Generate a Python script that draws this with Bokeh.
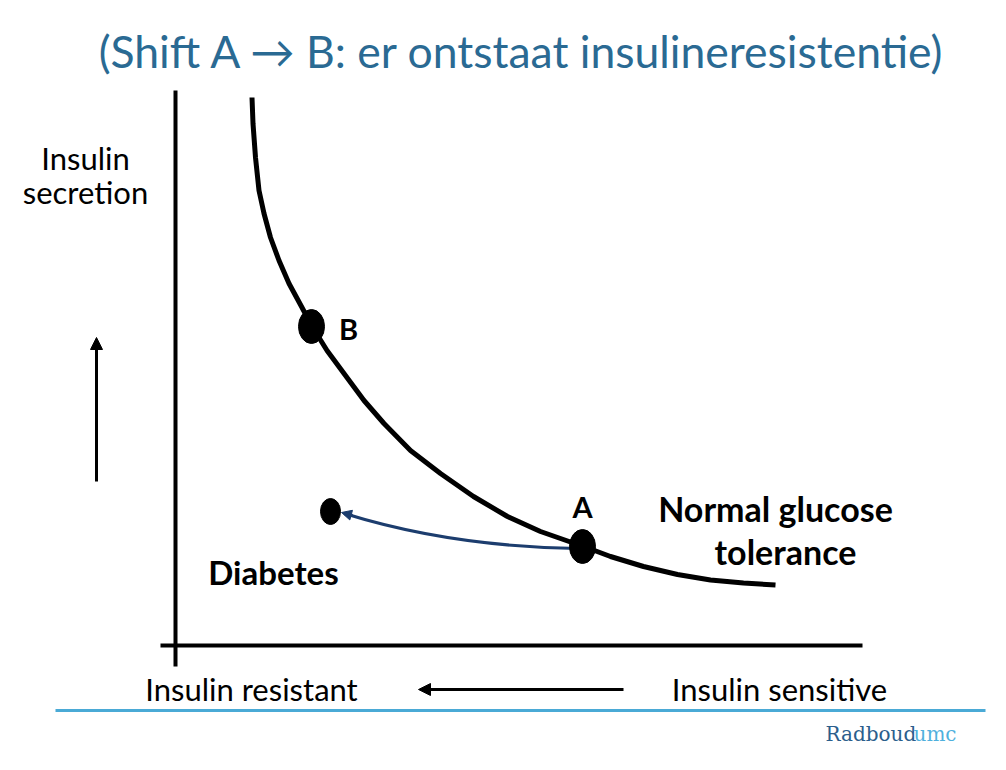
from bokeh.plotting import figure
from bokeh.models import Range1d, Arrow, NormalHead, ColumnDataSource
from bokeh.core.properties import value
from bokeh.embed import file_html
from bokeh.resources import INLINE

# ---- data (diagram coordinates; y grows downward) ----
curve_x = [251.5, 252.5, 255, 258.5, 263.5, 270, 278.5, 288.5, 301.5, 311, 326.5, 343.5, 363.5, 383.5,
           410, 440, 473, 507, 540, 570, 582, 610, 643, 677, 710, 743, 775]
curve_y = [97, 123, 157, 190, 213, 237, 260, 283, 307, 325, 350, 373, 400, 423,
           450, 473, 496, 516, 531, 541.5, 545.5, 556, 566, 574, 579.5, 582.5, 584.5]

point_names = ["B", "A"]
point_x = [311, 582]
point_y = [326, 546]

diabetes_x = [330]
diabetes_y = [511]

title_text = "(Shift A \u2192 B: er ontstaat insulineresistentie)"
y_label_lines = ["Insulin", "secretion"]
x_label_left = "Insulin resistant"
x_label_right = "Insulin sensitive"
ngt_lines = ["Normal glucose", "tolerance"]
diabetes_label = "Diabetes"

FONT = "Lato"
TITLE_BLUE = "#2A6A93"
NAVY = "#1C3D6E"
LIGHT_BLUE = "#4AAAD6"

p = figure(width=1006, height=770, output_backend="svg", toolbar_location=None,
           x_range=Range1d(0, 1006), y_range=Range1d(770, 0), min_border=0)
p.axis.visible = False
p.grid.visible = False
p.outline_line_color = None
p.background_fill_color = "white"
p.border_fill_color = "white"

# title
p.text(x=[522], y=[50], text=[title_text], text_font=value(FONT), text_font_size="44.5px",
       text_color=TITLE_BLUE, text_align="center", text_baseline="middle")

# axes lines
p.line(x=[175, 175], y=[90, 666], line_color="black", line_width=4)
p.line(x=[160, 862], y=[645, 645], line_color="black", line_width=4)

# y label and arrow
p.text(x=[85, 85], y=[157, 191], text=y_label_lines, text_font=value(FONT), text_font_size="31px",
       text_color="black", text_align="center", text_baseline="middle")
p.add_layout(Arrow(end=NormalHead(size=12, fill_color="black", line_color="black"),
                   x_start=96, y_start=481, x_end=96, y_end=337, line_width=3, line_color="black"))

# x labels and arrow
p.text(x=[251], y=[688], text=[x_label_left], text_font=value(FONT), text_font_size="31px",
       text_color="black", text_align="center", text_baseline="middle")
p.text(x=[779], y=[688], text=[x_label_right], text_font=value(FONT), text_font_size="31px",
       text_color="black", text_align="center", text_baseline="middle")
p.add_layout(Arrow(end=NormalHead(size=12, fill_color="black", line_color="black"),
                   x_start=623, y_start=689, x_end=418, y_end=689, line_width=3, line_color="black"))

# curve
p.line(x=curve_x, y=curve_y, line_color="black", line_width=5, line_join="round", line_cap="butt")

# shift arrow A -> diabetes
p.quadratic(x0=[577], y0=[548], x1=[344], y1=[513], cx=[450], cy=[546], line_color=NAVY, line_width=3)
p.add_layout(Arrow(end=NormalHead(size=10, fill_color=NAVY, line_color=NAVY),
                   x_start=352, y_start=515, x_end=341, y_end=512, line_width=3, line_color=NAVY))

# points
src = ColumnDataSource(dict(x=point_x, y=point_y, name=point_names))
p.ellipse(x="x", y="y", width=26, height=34, source=src, fill_color="black", line_color="black")
p.ellipse(x=diabetes_x, y=diabetes_y, width=20, height=26, fill_color="black", line_color="black")

p.text(x=[348], y=[328], text=["B"], text_font=value(FONT), text_font_size="29px", text_font_style="bold",
       text_color="black", text_align="center", text_baseline="middle")
p.text(x=[582], y=[506], text=["A"], text_font=value(FONT), text_font_size="29px", text_font_style="bold",
       text_color="black", text_align="center", text_baseline="middle")
p.text(x=[273], y=[571], text=[diabetes_label], text_font=value(FONT), text_font_size="33px",
       text_font_style="bold", text_color="black", text_align="center", text_baseline="middle")
p.text(x=[775, 785], y=[508, 551], text=ngt_lines, text_font=value(FONT), text_font_size="34px",
       text_font_style="bold", text_color="black", text_align="center", text_baseline="middle")

# footer line and logo
p.line(x=[55, 985], y=[710, 710], line_color=LIGHT_BLUE, line_width=3)
p.text(x=[825], y=[733], text=["Radboud"], text_font=value("DejaVu Serif"), text_font_size="20px",
       text_color="#2B5E8C", text_align="left", text_baseline="middle")
p.text(x=[913], y=[733], text=["umc"], text_font=value("DejaVu Serif"), text_font_size="20px",
       text_color="#4FB0DD", text_align="left", text_baseline="middle")

open("out.html", "w").write(file_html(p, INLINE))
